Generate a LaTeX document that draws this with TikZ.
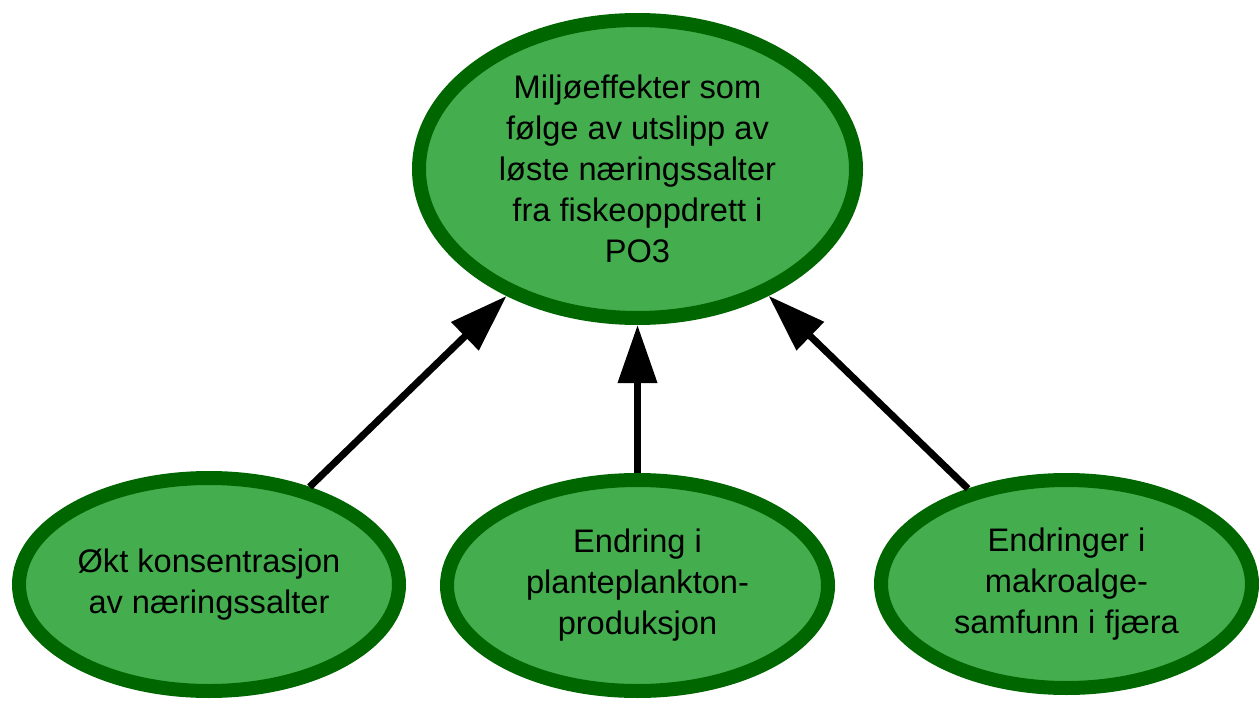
\documentclass[tikz,border=0pt]{standalone}
\usepackage{fontspec}
\setmainfont{Liberation Sans}
\usetikzlibrary{arrows.meta,shapes.geometric}
\definecolor{leafgreen}{RGB}{68,174,78}
\definecolor{darkleaf}{RGB}{0,102,0}

\begin{document}
\begin{tikzpicture}[x=0.5pt, y=-0.5pt, >={Triangle[length=29pt,width=19pt]},
    effect/.style={ellipse, draw=darkleaf, fill=leafgreen, line width=7pt,
      inner sep=0pt, align=center, font=\fontsize{16.3}{20.5}\selectfont},
    link/.style={->, line width=3.5pt, black}]
    \useasboundingbox (0,0) rectangle (1259,701);
    % Top effect
    \node[effect, minimum width=218.5pt, minimum height=149pt] (effekt) at (637.5,169)
      {Miljøeffekter som\\følge av utslipp av\\løste næringssalter\\fra fiskeoppdrett i\\PO3};
    % Bottom causes
    \node[effect, minimum width=190pt, minimum height=106.5pt] (okt) at (209,584.5)
      {Økt konsentrasjon\\av næringssalter};
    \node[effect, minimum width=190.5pt, minimum height=105.5pt] (plankton) at (637.5,585.5)
      {Endring i\\planteplankton-\\produksjon};
    \node[effect, minimum width=185.5pt, minimum height=104pt] (makro) at (1066.5,584)
      {Endringer i\\makroalge-\\samfunn i fjæra};
    % Arrows
    \foreach \n in {okt,plankton,makro}
      \draw[link] (\n) -- (effekt);
  \end{tikzpicture}
\end{document}
